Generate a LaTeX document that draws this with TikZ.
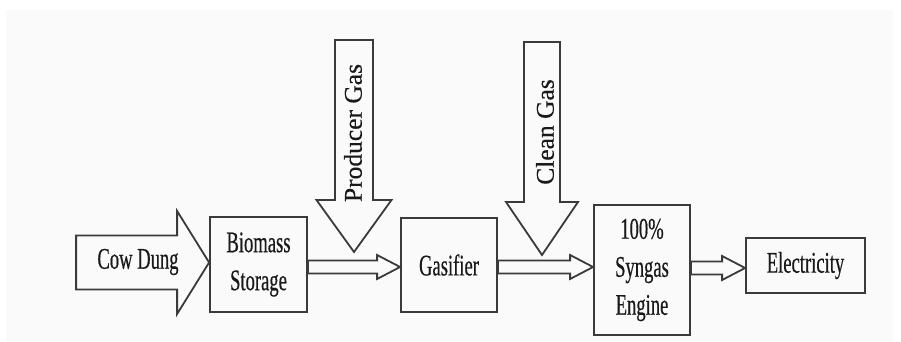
\documentclass[tikz,border=0pt]{standalone}
\usepackage{fontspec}
\setmainfont[FakeStretch=0.62,FakeBold=0.4]{Liberation Serif}
\newfontfamily\rotfont[FakeBold=0.3]{Liberation Serif}
\usetikzlibrary{calc}
\definecolor{bg}{HTML}{FAFAFA}
\definecolor{ln}{HTML}{3A3A3A}
\begin{document}
\begin{tikzpicture}[x=1pt,y=-1pt,
  outline/.style={draw=ln, line width=1.8pt, line join=miter, fill=bg},
  box/.style={outline, inner sep=0pt, align=center, text=black!90,
    font=\fontsize{30}{38}\selectfont},
  lbl/.style={inner sep=0pt, text=black!90, font=\fontsize{30}{38}\selectfont},
  rotlbl/.style={inner sep=0pt, text=black!90, rotate=90,
    font=\rotfont\fontsize{25.5}{32}\selectfont},
  thin/.style={to path={let \p1=(\tikztostart), \p2=(\tikztotarget) in
    (\x1,\y1-6.5pt) -- (\x2-23pt,\y1-6.5pt) -- (\x2-23pt,\y1-12pt) -- (\x2,\y1)
    -- (\x2-23pt,\y1+12pt) -- (\x2-23pt,\y1+6.5pt) -- (\x1,\y1+6.5pt) -- cycle}}
]
\useasboundingbox (0,0) rectangle (901,342);
\fill[white] (0,0) rectangle (901,342);
\fill[bg] (6,10) rectangle (893,342);

% boxes
\node[box, minimum width=97pt, minimum height=95pt] (bs) at (258.5,264.5) {Biomass\\Storage};
\node[box, minimum width=96pt, minimum height=94pt] (ga) at (449,265) {Gasifier};
\node[box, minimum width=96pt, minimum height=130pt] (se) at (642,270) {100\%\\Syngas\\Engine};
\node[box, minimum width=119pt, minimum height=55pt] (el) at (805.5,265.5) {Electricity};

% Cow Dung block arrow
\draw[outline] ([yshift=2pt]bs.west) -- ++(-32,-51.5) -- ++(0,24.5) -- ++(-101,0)
  -- ++(0,54) -- ++(101,0) -- ++(0,24.5) -- cycle;
\node[lbl] (cd) at (138,262) {Cow Dung};

% thin connectors
\draw[outline] ([yshift=-2.5pt]bs.east) to[thin] (ga.west);
\draw[outline] ([yshift=-2pt]ga.east) to[thin] (se.west);
\draw[outline] ([yshift=2pt]se.east) to[thin] (el.west);

% Producer Gas arrow
\coordinate (pgtip) at (354,252);
\draw[outline] (pgtip) -- ++(-37.5,-52) -- ++(18.5,0) -- ++(0,-160) -- ++(38,0)
  -- ++(0,160) -- ++(18.5,0) -- cycle;
\node[rotlbl] (pg) at (353,133) {Producer Gas};

% Clean Gas arrow
\coordinate (cgtip) at (542,255);
\draw[outline] (cgtip) -- ++(-36,-53) -- ++(18,0) -- ++(0,-160) -- ++(36,0)
  -- ++(0,160) -- ++(18,0) -- cycle;
\node[rotlbl] (cg) at (545,132) {Clean Gas};
\end{tikzpicture}
\end{document}
